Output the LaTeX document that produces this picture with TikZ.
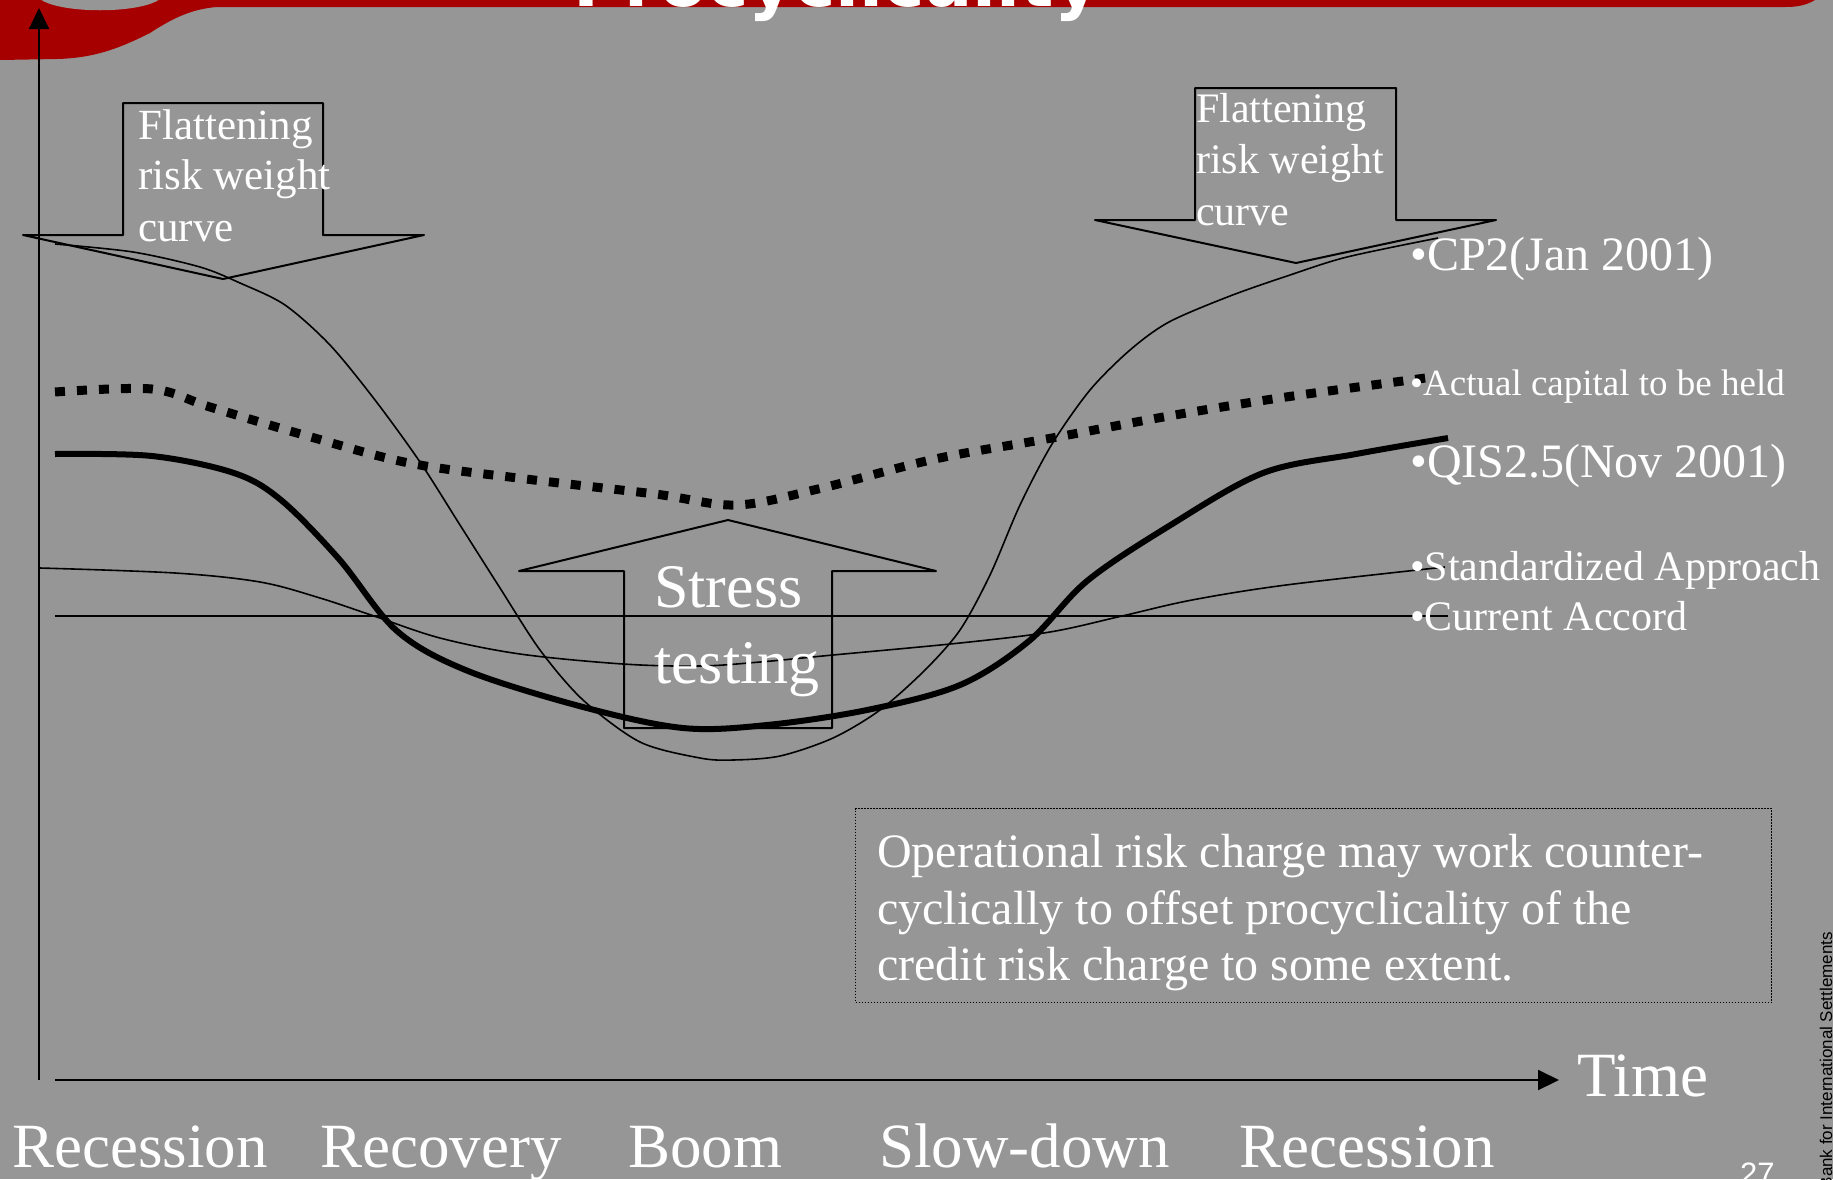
\documentclass[tikz,border=0pt]{standalone}
\usepackage{fontspec}
\setmainfont{Liberation Serif}
\newfontfamily\titlefam{DejaVu Sans}
\newfontfamily\arialfam{Liberation Sans}
\usetikzlibrary{arrows.meta}
\definecolor{slidegray}{RGB}{150,150,150}
\definecolor{bannerred}{RGB}{167,0,0}
\newcommand{\txtsize}[1]{\fontsize{#1}{#1}\selectfont}

\begin{document}
\begin{tikzpicture}[x=1pt,y=-1pt,
  lbl/.style={anchor=base west, inner sep=0pt, text=white},
  axisline/.style={line width=2pt, -{Triangle[length=21pt,width=20pt]}},
  blockarrow/.style={line width=2pt, line join=round},
  thincurve/.style={line width=1.6pt},
  qiscurve/.style={line width=6pt},
  capcurve/.style={line width=9pt, dash pattern=on 10pt off 12pt},
]
\useasboundingbox (0,0) rectangle (1833,1179);
\clip (0,0) rectangle (1833,1179);
\fill[slidegray] (0,0) rectangle (1833,1179);

% title banner
\fill[bannerred] (0,-5) -- (1815,-5) -- (1815,0) .. controls (1805,6) and (1795,7) .. (1785,7)
  -- (217,7) .. controls (190,9) and (170,20) .. (150,33)
  .. controls (120,48) and (95,58) .. (57,59) -- (0,60) -- cycle;
\fill[slidegray] (40,-1) .. controls (60,14) and (140,14) .. (160,-1) -- cycle;
\node[lbl, font=\titlefam\bfseries\txtsize{70}] (title) at (573,6) {Procyclicality};

% axes
\coordinate (yb) at (39,1080);
\coordinate (yt) at (39,8);
\coordinate (xl) at (55,1080);
\coordinate (xr) at (1559,1080);
\draw[axisline] (yb) -- (yt);
\draw[axisline] (xl) -- (xr);

% flattening arrows and stress testing arrow
\draw[blockarrow] (123,103) -- (323,103) -- (323,235) -- (424,235) -- (223,279)
  -- (23,235) -- (123,235) -- cycle;
\draw[blockarrow] (1195,88) -- (1396,88) -- (1396,220) -- (1496,220) -- (1296,263)
  -- (1095,220) -- (1195,220) -- cycle;
\draw[blockarrow] (728,520) -- (936,571) -- (832,571) -- (832,728) -- (624,728)
  -- (624,571) -- (519,571) -- cycle;

% current accord
\draw[thincurve] (55,616) -- (1448,616);

% standardized approach
\draw[thincurve] plot[smooth, tension=0.55] coordinates {
  (40,568) (175,573) (260,582) (320,598) (374,616) (440,638) (520,654) (623,664)
  (700,666) (760,662) (833,655) (960,643) (1050,632) (1122,616) (1192,600)
  (1286,585) (1445,567)};

% CP2
\draw[thincurve] plot[smooth, tension=0.5] coordinates {
  (55,244) (133,252) (200,267) (240,283) (285,305) (330,345) (375,400) (420,462)
  (460,525) (500,588) (540,650) (583,700) (640,742) (700,758) (733,760) (780,756)
  (833,738) (880,710) (925,670) (960,630) (990,575) (1020,505) (1052,444)
  (1090,390) (1130,350) (1169,322) (1230,296) (1290,275) (1347,257) (1438,238)};

% QIS2.5
\draw[qiscurve] plot[smooth, tension=0.55] coordinates {
  (55,454) (152,456) (234,473) (281,500) (339,559) (397,631) (468,671) (583,707)
  (683,728) (767,725) (867,710) (960,685) (1029,641) (1087,581) (1169,526)
  (1263,473) (1356,454) (1448,438)};

% actual capital to be held
\draw[capcurve] plot[smooth, tension=0.55] coordinates {
  (55,392) (152,389) (210,407) (304,435) (409,463) (526,479) (655,494) (736,505)
  (818,489) (935,459) (1052,438) (1169,416) (1286,397) (1433,377)};

% arrow texts
\node[lbl, font=\txtsize{43}] (fl1) at (138,139) {Flattening};
\node[lbl, font=\txtsize{43}] (fl2) at (138,189) {risk weight};
\node[lbl, font=\txtsize{43}] (fl3) at (138,241) {curve};
\node[lbl, font=\txtsize{42}] (fr1) at (1196,122) {Flattening};
\node[lbl, font=\txtsize{42}] (fr2) at (1196,173) {risk weight};
\node[lbl, font=\txtsize{42}] (fr3) at (1196,225) {curve};
\node[lbl, font=\txtsize{62}] (st1) at (654,607) {Stress};
\node[lbl, font=\txtsize{62}] (st2) at (654,683) {testing};

% series labels
\node[lbl, font=\txtsize{48}] (cp2) at (1410,270) {•CP2(Jan 2001)};
\node[lbl, font=\txtsize{37}] (cap) at (1410,395) {•Actual capital to be held};
\node[lbl, font=\txtsize{48}] (qis) at (1410,477) {•QIS2.5(Nov 2001)};
\node[lbl, font=\txtsize{42}] (std) at (1410,580) {•Standardized Approach};
\node[lbl, font=\txtsize{42}] (cur) at (1410,630) {•Current Accord};

% operational risk note
\node[draw, line width=1pt, dash pattern=on 1.5pt off 1.5pt, minimum width=916pt,
  minimum height=194pt, anchor=north west, inner sep=0pt] (opbox) at (855,808) {};
\node[lbl, font=\txtsize{48}] (op1) at (877,867) {Operational risk charge may work counter-};
\node[lbl, font=\txtsize{48}] (op2) at (877,924) {cyclically to offset procyclicality of the};
\node[lbl, font=\txtsize{48}] (op3) at (877,980) {credit risk charge to some extent.};

% time axis labels
\node[lbl, font=\txtsize{63}] (time) at (1577,1096) {Time};
\node[lbl, font=\txtsize{63}] (ph1) at (12,1167) {Recession};
\node[lbl, font=\txtsize{63}] (ph2) at (320,1167) {Recovery};
\node[lbl, font=\txtsize{63}] (ph3) at (628,1167) {Boom};
\node[lbl, font=\txtsize{63}] (ph4) at (879,1167) {Slow-down};
\node[lbl, font=\txtsize{63}] (ph5) at (1239,1167) {Recession};

% footer
\node[lbl, font=\arialfam\txtsize{31}] (pagenum) at (1740,1184) {27};
\node[anchor=base east, inner sep=0pt, rotate=90, font=\arialfam\txtsize{17}]
  (bis) at (1832,932) {Bank for International Settlements};
\end{tikzpicture}
\end{document}
